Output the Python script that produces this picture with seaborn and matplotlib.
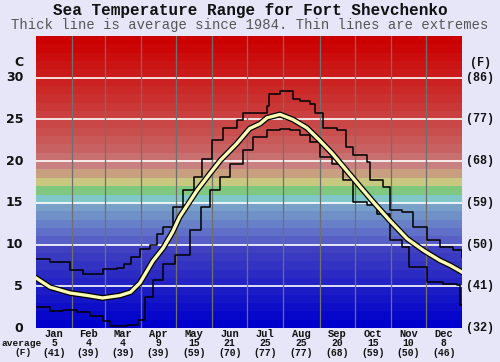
import numpy as np
import pandas as pd
import matplotlib
matplotlib.use("Agg")
import matplotlib.pyplot as plt
import matplotlib.patheffects as pe
import seaborn as sns

# day of year -> sea temperature (C)
avg_day = [0, 12, 29, 44, 57, 72, 81, 89, 100, 109, 117, 123, 138, 149, 158, 172, 183,
           192, 198, 209, 220, 232, 243, 254, 266, 278, 289, 303, 318, 332, 346, 355, 365]
avg_temp = [6.0, 4.9, 4.2, 3.9, 3.6, 3.9, 4.3, 5.4, 8.0, 9.6, 11.5, 13.3, 16.5, 18.5, 20.1, 22.1, 23.9,
            24.5, 25.2, 25.6, 25.0, 24.0, 22.5, 20.9, 18.9, 16.9, 15.1, 12.9, 10.7, 9.3, 8.1, 7.5, 6.7]

hi_day = [0, 12, 29, 40, 57, 69, 75, 81, 89, 98, 104, 109, 117, 126, 135, 142, 151, 160, 172,
          177, 192, 198, 200, 209, 218, 220, 226, 235, 239, 246, 258, 266, 272, 284, 286, 297,
          303, 314, 323, 335, 346, 357, 365]
hi_temp = [8.3, 7.9, 6.9, 6.5, 7.1, 7.2, 7.7, 8.5, 9.5, 9.9, 11.3, 12.1, 14.5, 16.5, 18.1, 20.3,
           22.5, 24.0, 24.9, 25.8, 25.8, 26.6, 28.0, 28.4, 28.4, 27.4, 27.2, 26.8, 25.8, 24.0,
           23.7, 21.7, 20.7, 19.9, 17.7, 16.9, 14.1, 13.9, 12.1, 10.5, 9.7, 9.3, 8.5]

lo_day = [0, 12, 23, 35, 46, 57, 63, 78, 87, 93, 100, 109, 119, 132, 141, 149, 158, 166, 177,
          186, 198, 209, 218, 226, 235, 243, 254, 263, 272, 284, 292, 303, 314, 320, 335, 349,
          361, 363, 365]
lo_temp = [2.5, 2.0, 2.2, 1.9, 1.4, 0.8, 0.2, 0.4, 1.0, 3.7, 5.7, 7.7, 8.8, 11.7, 14.5, 16.5,
           18.1, 19.7, 21.3, 22.9, 23.7, 23.9, 23.7, 23.1, 22.3, 20.5, 19.7, 17.7, 15.1, 14.7,
           13.7, 10.5, 9.7, 7.3, 5.5, 5.3, 5.1, 2.7, 2.7]

months = ["Jan", "Feb", "Mar", "Apr", "May", "Jun", "Jul", "Aug", "Sep", "Oct", "Nov", "Dec"]
month_avg_c = [5, 4, 4, 9, 15, 21, 25, 25, 20, 15, 10, 8]
month_avg_f = [41, 39, 39, 39, 59, 70, 77, 77, 68, 59, 50, 46]
month_len = [31, 28, 31, 30, 31, 30, 31, 31, 30, 31, 30, 31]

c_ticks = [0, 5, 10, 15, 20, 25, 30]
f_labels = ["(32)", "(41)", "(50)", "(59)", "(68)", "(77)", "(86)"]

bg = "#e6e6f8"
mono = "Liberation Mono"
ink = "#111111"


def band_colors():
    cols = []
    blue0, blue1 = np.array([0, 0, 204]), np.array([64, 64, 192])
    for t in np.linspace(0, 1, 10):
        cols.append(blue0 + (blue1 - blue0) * t)
    cols += [(88, 96, 200), (96, 112, 200), (104, 128, 200), (112, 144, 200), (120, 160, 200),
             (128, 200, 200), (128, 200, 128), (200, 200, 128), (200, 160, 128), (200, 128, 128)]
    red0, red1 = np.array([200, 112, 112]), np.array([204, 0, 0])
    for t in np.linspace(0, 1, 15) ** 0.8:
        cols.append(red0 + (red1 - red0) * t)
    return [tuple(np.array(c) / 255) for c in cols]


fig = plt.figure(figsize=(5, 3.62), dpi=100, facecolor=bg)
ax = fig.add_axes([0.072, 0.0939, 0.852, 0.8066])

for i, col in enumerate(band_colors()):
    ax.axhspan(i, i + 1, color=col, lw=0, zorder=0)
for t in c_ticks[1:]:
    ax.axhline(t, color="white", lw=1.2, zorder=1)
for b in np.cumsum(month_len)[:-1]:
    ax.axvline(b, color="#707070", lw=0.9, zorder=1)

hi = pd.DataFrame({"day": hi_day, "temp": hi_temp})
lo = pd.DataFrame({"day": lo_day, "temp": lo_temp})
av = pd.DataFrame({"day": avg_day, "temp": avg_temp})

sns.lineplot(data=hi, x="day", y="temp", ax=ax, color="black", lw=1.1,
             drawstyle="steps-post", sort=False, zorder=3)
sns.lineplot(data=lo, x="day", y="temp", ax=ax, color="black", lw=1.1,
             drawstyle="steps-post", sort=False, zorder=3)
sns.lineplot(data=av, x="day", y="temp", ax=ax, color="#fbfbb4", lw=2.4, sort=False, zorder=4,
             path_effects=[pe.Stroke(linewidth=4.2, foreground="black"), pe.Normal()])

ax.set_xlim(0, 365)
ax.set_ylim(0, 35)
for s in ax.spines.values():
    s.set_visible(False)
ax.set_xticks([])
ax.set_yticks([])
ax.set_xlabel("")
ax.set_ylabel("")

# left (C) and right (F) labels
for t, f in zip(c_ticks, f_labels):
    ax.text(-11, t, str(t), ha="right", va="center", fontsize=9, fontweight="bold",
            family="DejaVu Sans", color=ink, clip_on=False)
    ax.text(368, t, f, ha="left", va="center", fontsize=8.5, fontweight="bold",
            family=mono, color=ink, clip_on=False)
ax.text(-15, 31.8, "C", ha="center", va="center", fontsize=9, fontweight="bold",
        family="DejaVu Sans", color=ink, clip_on=False)
ax.text(372, 31.8, "(F)", ha="left", va="center", fontsize=8.5, fontweight="bold",
        family=mono, color=ink, clip_on=False)

# month names and monthly averages under the plot
starts = np.concatenate([[0], np.cumsum(month_len)[:-1]])
centers = starts + np.array(month_len) / 2
for c, m, a, f in zip(centers, months, month_avg_c, month_avg_f):
    ax.text(c, -0.75, m, ha="center", va="center", fontsize=7.5, fontweight="bold",
            family=mono, color=ink, clip_on=False)
    ax.text(c, -1.85, str(a), ha="center", va="center", fontsize=7, fontweight="bold",
            family=mono, color=ink, clip_on=False)
    ax.text(c, -2.95, f"({f})", ha="center", va="center", fontsize=7, fontweight="bold",
            family=mono, color=ink, clip_on=False)
fig.text(0.004, 0.0498, "average", ha="left", va="center", fontsize=6.8, fontweight="bold",
         family=mono, color=ink)
fig.text(0.045, 0.0249, "(F)", ha="center", va="center", fontsize=6.8, fontweight="bold",
         family=mono, color=ink)

fig.text(0.5, 0.972, "Sea Temperature Range for Fort Shevchenko", ha="center", va="center",
         fontsize=11.5, fontweight="bold", family=mono, color=ink)
fig.text(0.5, 0.931, "Thick line is average since 1984. Thin lines are extremes",
         ha="center", va="center", fontsize=10, family=mono, color="#555555")

fig.savefig("out.png", dpi=100, facecolor=bg)
